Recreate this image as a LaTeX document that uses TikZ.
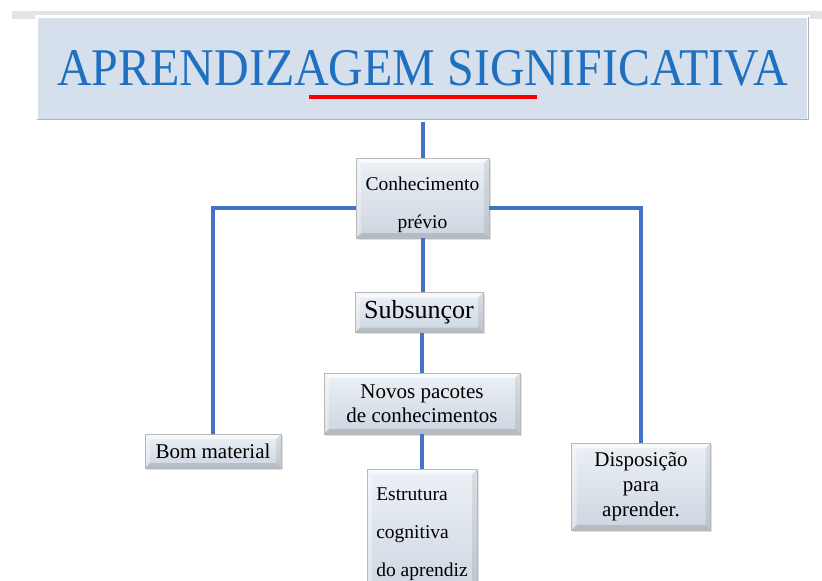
\documentclass[tikz,border=0pt]{standalone}
\usepackage{fontspec}
\setmainfont{Liberation Serif}
\usepackage{graphicx}
\usepackage{tikz}
\usetikzlibrary{shadows}

\definecolor{azul}{HTML}{4472C4}
\definecolor{titazul}{HTML}{1F70C1}
\definecolor{fundo}{HTML}{D6E0EC}

\begin{document}
\begin{tikzpicture}[x=1pt,y=-1pt,
  caixa/.style={top color=#1, bottom color=#1!70!black!20!fundo, draw=black!28, line width=.6pt,
    inner sep=0pt, align=center, drop shadow={opacity=.25,shadow xshift=1.5pt,shadow yshift=-1.5pt},
    path picture={
      \fill [white, opacity=.6] (path picture bounding box.north west) -- (path picture bounding box.north east)
        -- ([shift={(-5pt,-5pt)}]path picture bounding box.north east) -- ([shift={(5pt,-5pt)}]path picture bounding box.north west) -- cycle;
      \fill [white, opacity=.35] (path picture bounding box.north west) -- (path picture bounding box.south west)
        -- ([shift={(5pt,5pt)}]path picture bounding box.south west) -- ([shift={(5pt,-5pt)}]path picture bounding box.north west) -- cycle;
      \fill [black, opacity=.12] (path picture bounding box.south west) -- (path picture bounding box.south east)
        -- ([shift={(-5pt,5pt)}]path picture bounding box.south east) -- ([shift={(5pt,5pt)}]path picture bounding box.south west) -- cycle;
      \fill [black, opacity=.08] (path picture bounding box.north east) -- (path picture bounding box.south east)
        -- ([shift={(-5pt,5pt)}]path picture bounding box.south east) -- ([shift={(-5pt,-5pt)}]path picture bounding box.north east) -- cycle;}},
  caixa/.default={white!55!fundo},
  ligacao/.style={draw=azul, line width=4pt}]
\useasboundingbox (0,0) rectangle (822,581);
\fill [black!11] (12,11) rectangle (822,19);
\node (titulo) [fill=fundo, draw=white, line width=3pt, minimum width=772pt, minimum height=104pt,
  drop shadow={opacity=.4,shadow xshift=1.5pt,shadow yshift=-2pt}, text=titazul,
  font=\fontsize{53}{60}\selectfont] at (422.5,68) {\scalebox{0.905}[1]{APRENDIZAGEM SIGNIFICATIVA}};
\draw [black!30, line width=.8pt] ([shift={(2pt,2pt)}]titulo.south west) -- ([shift={(-2pt,2pt)}]titulo.south east) -- ([shift={(-2pt,-2pt)}]titulo.north east);
\draw [red, line width=4pt] (309,97) -- (537,97);
\node (conh) [caixa, minimum width=133pt, minimum height=80pt, font=\fontsize{19.5}{38}\selectfont] at (422.5,198) {\rule{0pt}{28pt}Conhecimento\\prévio};
\node (subs) [caixa, minimum width=128pt, minimum height=40pt, font=\fontsize{26}{30}\selectfont] at (419,312.5) {Subsunçor};
\node (novos) [caixa, minimum width=196pt, minimum height=61pt, font=\fontsize{21}{24}\selectfont] at (422,403.5) {Novos pacotes\\de conhecimentos};
\node (estr) [caixa, anchor=north, align=left, minimum width=110pt, inner ysep=18pt, font=\fontsize{19.5}{38}\selectfont] at (422,469) {Estrutura\\cognitiva\\do aprendiz};
\node (bom) [caixa, minimum width=136pt, minimum height=34pt, font=\fontsize{21}{24}\selectfont] at (213,451) {Bom material};
\node (disp) [caixa, minimum width=139pt, minimum height=87pt, font=\fontsize{21}{25}\selectfont] at (641,486.5) {Disposição\\para\\aprender.};
\draw [ligacao] (titulo.south -| conh.north) -- (conh.north);
\draw [ligacao] ([yshift=-10pt]conh.west) -| (bom.north);
\draw [ligacao] ([yshift=-10pt]conh.east) -| (disp.north);
\draw [ligacao] (conh.south) -- (conh.south |- subs.north);
\draw [ligacao] (novos.north |- subs.south) -- (novos.north);
\draw [ligacao] (novos.south) -- (estr.north);
\end{tikzpicture}
\end{document}
